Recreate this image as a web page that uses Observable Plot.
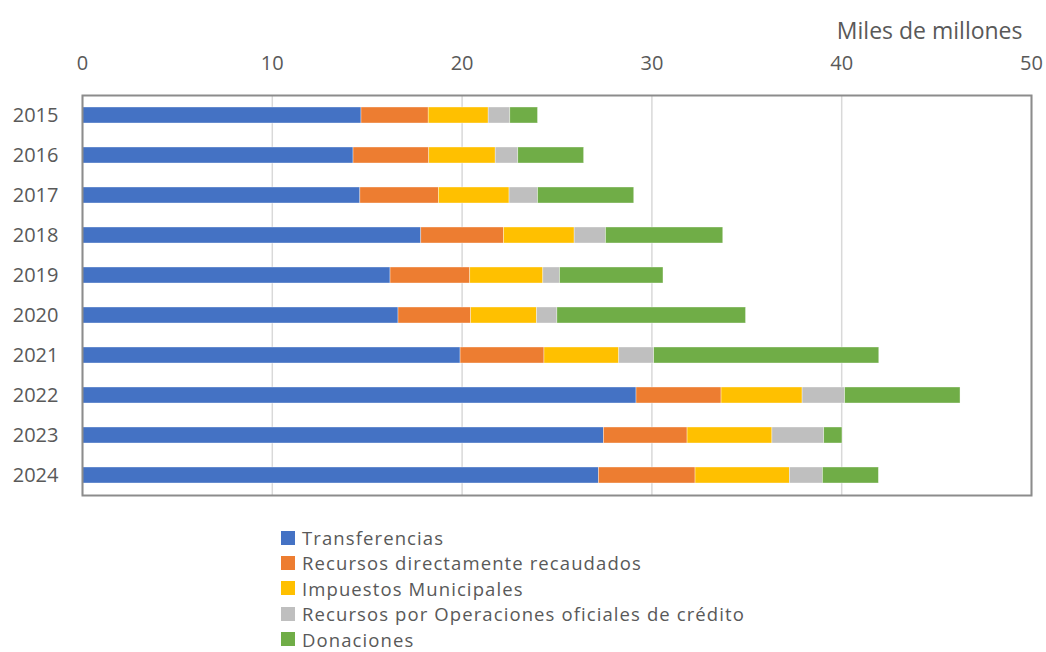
<!DOCTYPE html>
<html>
<head>
<meta charset="utf-8">
<script src="https://cdn.jsdelivr.net/npm/d3@7"></script>
<script src="https://cdn.jsdelivr.net/npm/@observablehq/plot@0.6"></script>
<style>
  html, body { margin: 0; padding: 0; background: #fff; }
  body { width: 1046px; height: 652px; overflow: hidden; font-family: "Open Sans", sans-serif; position: relative; }
  #chart { position: absolute; left: 0; top: 0; }
  #chart svg { display: block; }
  #legend { position: absolute; left: 281px; top: 525px; color: #595959; font-size: 18.5px; letter-spacing: 1.1px; line-height: 25.4px; }
  #legend .row { display: flex; align-items: center; white-space: nowrap; height: 25.4px; }
  #legend .sw { width: 14px; height: 14px; margin-right: 7px; display: inline-block; flex: none; }
</style>
</head>
<body>
<div id="chart"></div>
<div id="legend"></div>
<script>
const years = ["2015","2016","2017","2018","2019","2020","2021","2022","2023","2024"];
const series = ["Transferencias","Recursos directamente recaudados","Impuestos Municipales","Recursos por Operaciones oficiales de crédito","Donaciones"];
const colors = ["#4472C4","#ED7D31","#FFC000","#BFBFBF","#70AD47"];
const transferencias = [14.70, 14.28, 14.64, 17.85, 16.23, 16.65, 19.92, 29.19, 27.47, 27.21];
const recaudados     = [3.54, 3.99, 4.14, 4.36, 4.20, 3.83, 4.42, 4.48, 4.41, 5.09];
const impuestos      = [3.16, 3.50, 3.72, 3.72, 3.85, 3.47, 3.94, 4.27, 4.47, 4.97];
const credito        = [1.14, 1.19, 1.50, 1.65, 0.88, 1.07, 1.84, 2.24, 2.73, 1.74];
const donaciones     = [1.46, 3.47, 5.07, 6.18, 5.45, 9.94, 11.86, 6.08, 0.96, 2.95];
const xTicks = [0, 10, 20, 30, 40, 50];
const unitLabel = "Miles de millones";

const valuesBySeries = [transferencias, recaudados, impuestos, credito, donaciones];
const rows = [];
years.forEach((y, i) => {
  series.forEach((s, j) => rows.push({year: y, serie: s, value: valuesBySeries[j][i]}));
});

const chart = Plot.plot({
  width: 1046,
  height: 510,
  marginTop: 95,
  marginBottom: 15,
  marginLeft: 82,
  marginRight: 15,
  style: {fontFamily: "'Open Sans', sans-serif", fontSize: "20px", color: "#595959", background: "transparent"},
  x: {domain: [0, 50], ticks: xTicks},
  y: {domain: years, paddingInner: 0.6, paddingOuter: 0.3, round: false},
  color: {domain: series, range: colors},
  marks: [
    Plot.gridX(xTicks, {stroke: "#d9d9d9", strokeOpacity: 1, strokeWidth: 1.5}),
    Plot.barX(rows, {x: "value", y: "year", fill: "serie", stroke: "#ffffff", strokeWidth: 0.6, strokeOpacity: 0.6}),
    Plot.frame({stroke: "#8c8c8c", strokeWidth: 2}),
    Plot.axisX(xTicks, {anchor: "top", tickSize: 0, tickPadding: 26, fill: "#595959", fontSize: 20, label: null}),
    Plot.axisY({anchor: "left", tickSize: 0, tickPadding: 24, fill: "#595959", fontSize: 20, label: null}),
    Plot.text([unitLabel], {frameAnchor: "top-right", dx: -9, dy: -73, textAnchor: "end", fill: "#595959", fontSize: 23})
  ]
});
document.getElementById("chart").appendChild(chart);

const legend = document.getElementById("legend");
series.forEach((s, j) => {
  const row = document.createElement("div");
  row.className = "row";
  const sw = document.createElement("span");
  sw.className = "sw";
  sw.style.background = colors[j];
  const t = document.createElement("span");
  t.textContent = s;
  row.appendChild(sw);
  row.appendChild(t);
  legend.appendChild(row);
});
</script>
</body>
</html>
